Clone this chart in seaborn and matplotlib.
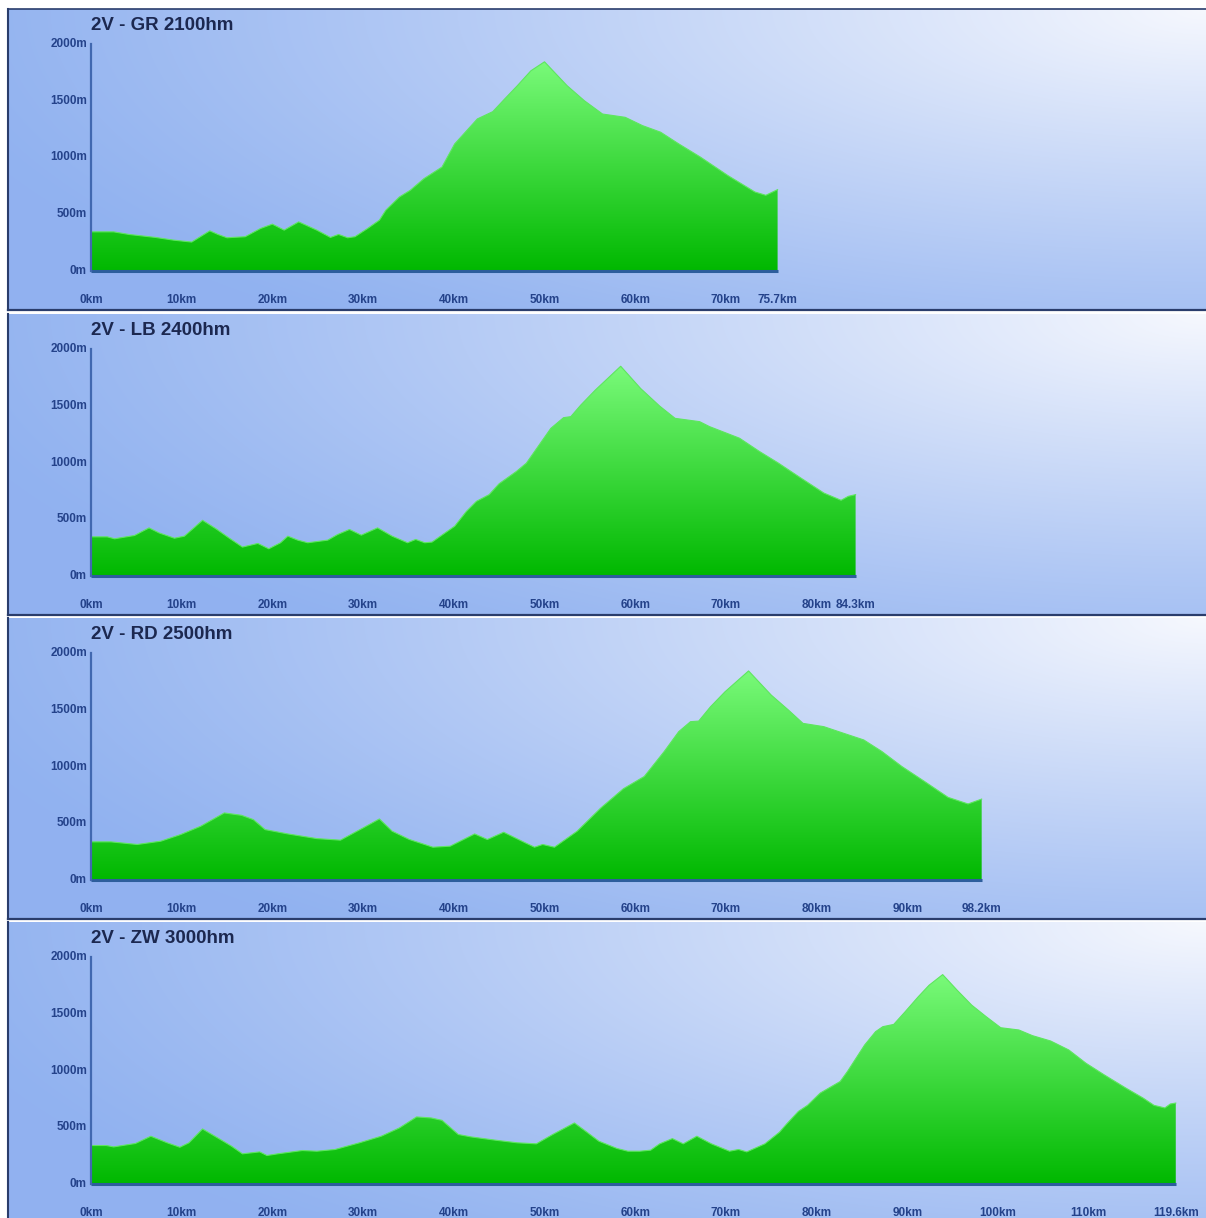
import numpy as np
import pandas as pd
import matplotlib
matplotlib.use("Agg")
import matplotlib.pyplot as plt
import seaborn as sns
from matplotlib.patches import Polygon

# ---------------- data ----------------
titles = ["2V - GR 2100hm", "2V - LB 2400hm", "2V - RD 2500hm", "2V - ZW 3000hm"]
route_lengths = [75.7, 84.3, 98.2, 119.6]
y_ticks = [0, 500, 1000, 1500, 2000]

gr_km = [0, 2.5, 4.2, 7.1, 9.1, 11.1, 13.1, 14.0, 15.0, 17.0, 18.7, 20.0, 21.3, 22.9, 24.9,
         26.4, 27.3, 28.3, 29.1, 30.5, 31.8, 32.5, 34.0, 35.2, 36.7, 38.7, 40.1, 42.6, 44.3,
         45.6, 47.0, 48.5, 50.0, 52.5, 54.4, 56.4, 58.9, 60.8, 62.8, 64.8, 67.2, 70.2, 73.2,
         74.4, 75.7]
gr_elev = [345, 345, 322, 296, 272, 255, 354, 322, 293, 302, 375, 413, 360, 433, 360,
           296, 322, 293, 302, 375, 448, 535, 652, 711, 813, 916, 1120, 1340, 1404,
           1515, 1632, 1764, 1843, 1632, 1500, 1383, 1354, 1281, 1223, 1120, 1003, 842, 696,
           667, 717]

lb_km = [0, 1.8, 2.6, 4.8, 6.4, 7.5, 9.2, 10.3, 12.3, 13.8, 15.2, 16.7, 18.4, 19.6, 20.9,
         21.7, 22.8, 23.9, 26.1, 27.2, 28.5, 29.8, 31.6, 33.2, 34.9, 35.8, 36.8, 37.6, 40.1,
         41.4, 42.5, 43.9, 45.0, 46.9, 48.0, 50.7, 52.1, 52.9, 54.0, 55.6, 58.4, 60.6, 62.7,
         64.4, 67.1, 68.2, 71.5, 73.7, 75.8, 78.0, 80.8, 82.7, 83.5, 84.3]
lb_elev = [345, 345, 328, 357, 424, 380, 333, 351, 491, 415, 336, 255, 287, 240, 293,
           351, 316, 293, 316, 366, 410, 360, 424, 351, 293, 322, 293, 299, 439,
           570, 658, 717, 813, 921, 994, 1301, 1395, 1404, 1506, 1638, 1848, 1652, 1497,
           1389, 1360, 1316, 1214, 1097, 994, 877, 731, 667, 702, 717]

rd_km = [0, 2.2, 5.1, 7.7, 9.9, 12.1, 14.7, 16.6, 17.9, 19.2, 21.7, 24.9, 27.5, 30.0, 31.8,
         33.2, 35.1, 37.7, 39.6, 42.3, 43.7, 45.5, 47.9, 48.9, 49.8, 51.1, 53.6, 56.2, 58.7,
         61.0, 63.2, 64.8, 66.1, 67.0, 68.3, 69.9, 72.5, 75.0, 76.9, 78.5, 80.8, 83.0, 85.2,
         87.2, 89.4, 91.9, 94.5, 96.7, 98.2]
rd_elev = [336, 336, 313, 342, 401, 474, 591, 570, 532, 444, 406, 365, 351, 459, 538,
           430, 357, 289, 298, 406, 357, 421, 327, 289, 313, 289, 430, 634, 804,
           912, 1132, 1307, 1395, 1400, 1526, 1658, 1842, 1629, 1497, 1380, 1351, 1292, 1234,
           1132, 1000, 868, 728, 670, 713]

zw_km = [0, 1.7, 2.5, 4.9, 6.6, 8.4, 9.8, 10.8, 12.3, 14.1, 15.5, 16.7, 18.6, 19.4, 20.6,
         23.3, 24.9, 26.9, 29.6, 32.0, 34.0, 35.9, 37.5, 38.7, 40.5, 41.9, 44.6, 47.0, 49.1,
         50.9, 53.3, 54.3, 56.0, 58.0, 59.2, 60.5, 61.7, 62.7, 64.1, 65.3, 66.8, 68.4, 70.4,
         71.4, 72.3, 74.3, 75.9, 76.7, 78.0, 79.0, 80.4, 82.6, 83.4, 85.3, 86.5, 87.3, 88.5,
         89.7, 91.2, 92.4, 93.9, 95.5, 97.1, 98.7, 100.3, 102.3, 103.8, 105.8, 107.8, 109.7,
         111.7, 114.1, 116.0, 117.2, 118.4, 119.0, 119.6]
zw_elev = [339, 339, 327, 357, 421, 363, 324, 363, 485, 400, 333, 266, 283, 251, 266,
           295, 289, 304, 363, 421, 494, 591, 582, 561, 436, 415, 386, 363, 354,
           436, 538, 479, 377, 313, 289, 289, 298, 354, 400, 354, 421, 354, 289,
           304, 283, 354, 456, 529, 640, 693, 801, 903, 991, 1225, 1342, 1386, 1406,
           1512, 1649, 1751, 1845, 1707, 1576, 1474, 1377, 1357, 1307, 1260, 1181, 1064,
           962, 845, 757, 693, 670, 705, 713]

profiles = [(gr_km, gr_elev), (lb_km, lb_elev), (rd_km, rd_elev), (zw_km, zw_elev)]

# ---------------- layout / style ----------------
plt.rcParams["font.family"] = ["Liberation Sans", "DejaVu Sans"]

W, H = 1206, 1218
fig = plt.figure(figsize=(W / 100, H / 100), dpi=100)
fig.patch.set_facecolor("white")

PX_PER_KM = 9.07
PX_PER_M = 0.1135
X0_PX = 91          # pixel column of 0 km
PANEL_LEFT = 8
PANEL_H = 301
BASE_FROM_TOP = 262  # pixels from panel top to 0 m line
panel_tops = [9, 314, 618, 922]

xlim = ((PANEL_LEFT - X0_PX) / PX_PER_KM, (W - X0_PX) / PX_PER_KM)
ylim = (-(PANEL_H - BASE_FROM_TOP) / PX_PER_M, BASE_FROM_TOP / PX_PER_M)


def panel_background(w, h):
    xs = np.arange(w)[None, :]
    ys = np.arange(h)[:, None]
    dx = (w - xs) / 1300.0
    dy = ys / 420.0
    r = np.sqrt(dx ** 2 + dy ** 2)
    t = np.clip(1 - r, 0, 1) ** 1.2
    base = np.array([145, 178, 240]) / 255.0
    hi = np.array([246, 248, 254]) / 255.0
    return base + (hi - base) * t[..., None]


bg_img = panel_background(W - PANEL_LEFT, PANEL_H)
g_lo = np.array([0, 184, 0]) / 255.0
g_hi = np.array([122, 250, 122]) / 255.0
tt = np.linspace(0, 1, 256)[:, None, None]
green_grad = g_lo + (g_hi - g_lo) * tt

label_color = "#24428a"
title_color = "#1c2850"

for p, (title, length, (km, elev)) in enumerate(zip(titles, route_lengths, profiles)):
    top = panel_tops[p]
    ax = fig.add_axes([PANEL_LEFT / W, 1 - (top + PANEL_H) / H,
                       (W - PANEL_LEFT) / W, PANEL_H / H])
    ax.imshow(bg_img, extent=[xlim[0], xlim[1], ylim[0], ylim[1]], origin="upper",
              aspect="auto", zorder=0, interpolation="bilinear")

    df = pd.DataFrame({"km": km, "elev": elev})
    verts = [(km[0], 0)] + list(zip(km, elev)) + [(km[-1], 0)]
    poly = Polygon(verts, closed=True, facecolor="none", edgecolor="none")
    ax.add_patch(poly)
    im = ax.imshow(green_grad, extent=[km[0], km[-1], 0, 1850], origin="lower",
                   aspect="auto", zorder=2, interpolation="bilinear")
    im.set_clip_path(poly)
    sns.lineplot(data=df, x="km", y="elev", ax=ax, color="#5ee65e", linewidth=0.8,
                 zorder=3, legend=False)

    # axes lines
    ax.plot([0, km[-1]], [0, 0], color="#2d5e9c", linewidth=2.2, zorder=4,
            solid_capstyle="butt")
    ax.plot([0, 0], [0, 2000], color="#4168b0", linewidth=1.6, zorder=4)

    # y labels
    for v in y_ticks:
        ax.text(-0.45, v, f"{v}m", ha="right", va="center", fontsize=8.5,
                fontweight="bold", color=label_color, zorder=5)
    # x labels
    for v in range(0, int(length // 10) * 10 + 1, 10):
        ax.text(v, -255, f"{v}km", ha="center", va="center", fontsize=8.5,
                fontweight="bold", color=label_color, zorder=5)
    ax.text(length, -255, f"{length}km", ha="center", va="center", fontsize=8.5,
            fontweight="bold", color=label_color, zorder=5)

    ax.text(0, 2167, title, ha="left", va="center", fontsize=13.5,
            fontweight="bold", color=title_color, zorder=5)

    ax.set_xlim(*xlim)
    ax.set_ylim(*ylim)
    ax.set_xticks([])
    ax.set_yticks([])
    ax.set_xlabel("")
    ax.set_ylabel("")
    for side in ["left", "right", "top", "bottom"]:
        ax.spines[side].set_visible(False)
    ax.spines["left"].set_visible(True)
    ax.spines["bottom"].set_visible(True)
    ax.spines["left"].set_color("#2a3d6c")
    ax.spines["bottom"].set_color("#2a3d6c")
    ax.spines["left"].set_linewidth(1.5)
    ax.spines["bottom"].set_linewidth(1.6)
    if p == 0:
        ax.spines["top"].set_visible(True)
        ax.spines["top"].set_color("#2a3d6c")
        ax.spines["top"].set_linewidth(1.2)

fig.savefig("out.png", dpi=100, facecolor="white")
